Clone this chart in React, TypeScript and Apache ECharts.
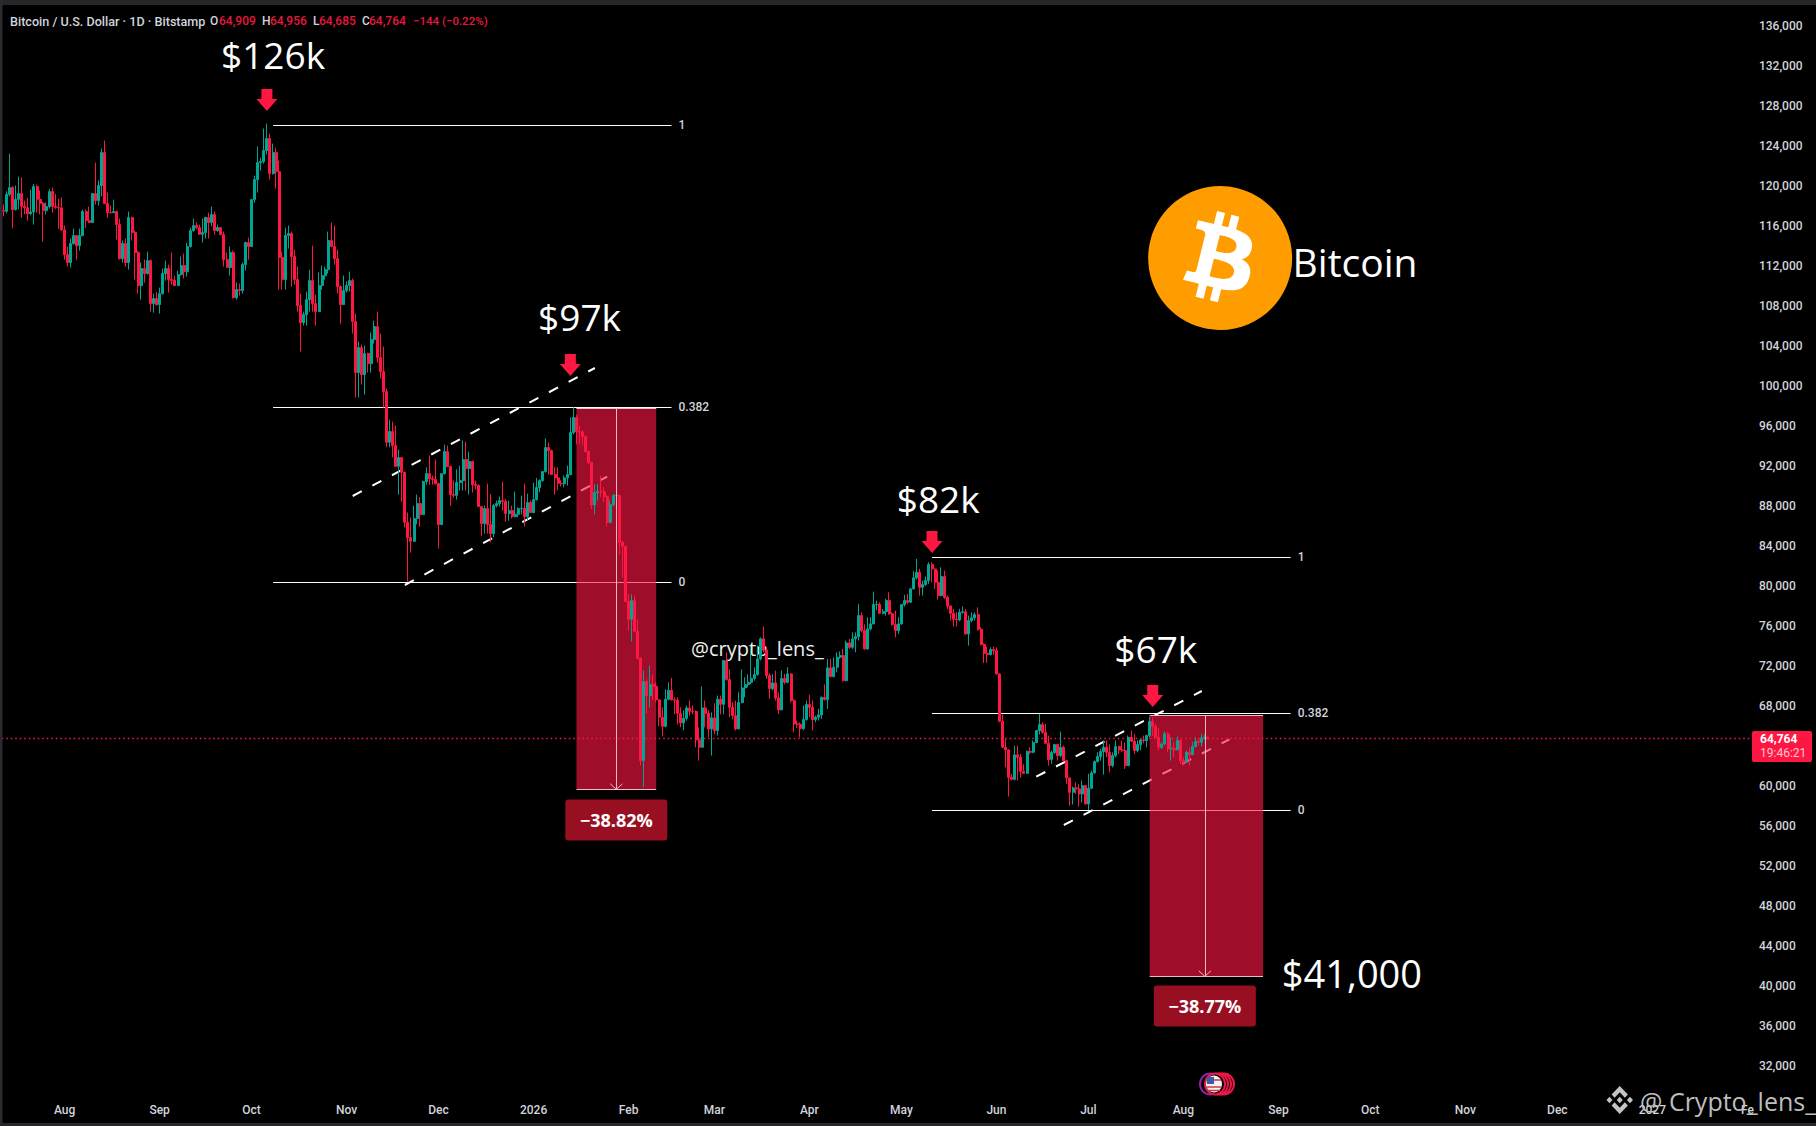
import React, { useEffect, useRef } from "react";
import * as echarts from "echarts";

const FONT = "Roboto, 'Liberation Sans', sans-serif";
const DRAW_FONT = "'Open Sans', 'Noto Sans', sans-serif";
const UP = "#00A693";
const DOWN = "#FF1744";

// Daily candles in thousands of USD, first candle 2025-07-12.
const firstDay = "2025-07-12";
const firstOpen = 117.6;
const closes = [
  117.5,119.2,119.87,117.67,118.7,119.27,118.0,117.85,117.27,117.44,
  119.97,118.7,118.3,117.57,117.97,119.47,118.0,117.9,117.84,115.64,
  113.17,112.37,114.27,115.07,114.07,115.07,117.47,116.57,116.37,119.27,
  118.57,120.07,123.37,118.27,117.37,117.35,117.47,116.17,112.77,114.27,
  112.37,116.87,115.37,113.37,110.07,111.77,111.27,112.57,108.27,108.77,
  108.17,109.27,111.27,111.77,110.67,110.6,110.07,111.17,112.07,111.47,
  113.97,115.57,116.07,115.87,115.2,115.37,116.87,116.37,117.17,115.57,
  115.87,115.17,112.67,111.87,113.37,108.87,109.67,109.57,112.17,114.37,
  113.97,118.67,120.67,122.37,122.47,123.57,124.77,121.27,123.37,121.47,
  112.87,110.67,115.07,115.27,112.97,110.67,108.07,106.37,107.17,108.67,
  110.57,108.27,107.47,110.07,111.07,111.67,114.57,113.97,112.77,109.97,
  108.17,109.57,110.07,110.57,106.47,101.37,103.87,101.17,103.27,102.27,
  104.67,105.97,102.87,101.47,99.47,94.4,95.47,94.07,92.0,92.87,
  91.4,86.4,84.87,84.5,86.77,88.27,87.17,90.47,91.27,90.77,
  90.7,90.27,86.17,91.27,93.47,91.97,89.17,89.1,90.37,90.57,
  92.67,91.77,92.47,90.17,90.1,87.97,86.27,87.77,86.17,85.27,
  88.07,88.27,88.57,88.47,87.27,87.57,86.97,87.2,87.77,87.8,
  86.97,88.37,87.37,88.67,89.87,90.57,91.47,93.87,93.57,91.17,
  90.84,90.3,90.25,90.84,91.17,95.37,96.87,95.47,95.44,94.97,
  93.47,92.37,88.14,89.37,89.47,89.44,88.97,86.4,88.17,89.07,
  89.1,84.4,84.0,78.5,76.7,78.57,75.5,72.8,62.57,70.47,
  69.07,70.17,69.97,68.64,66.9,66.0,68.7,69.6,68.64,68.6,
  67.3,66.34,66.8,67.84,67.5,67.47,64.64,63.9,67.84,67.3,
  65.74,66.84,65.57,68.7,68.2,72.57,70.67,67.9,67.07,65.74,
  68.37,69.84,70.17,70.4,70.8,71.17,72.74,74.74,73.6,71.07,
  69.77,70.34,68.84,67.64,70.77,70.4,71.24,68.57,66.24,66.2,
  65.77,66.67,68.17,67.9,66.67,66.9,67.14,68.9,68.67,71.84,
  70.97,71.9,72.9,73.07,70.57,74.34,73.9,74.74,74.97,77.07,
  75.57,73.74,75.74,76.24,78.17,78.2,77.3,77.47,78.57,77.24,
  76.17,75.57,76.24,78.17,78.57,78.4,79.74,80.84,81.4,79.9,
  80.17,80.57,82.17,81.74,80.4,79.07,80.97,78.9,78.04,77.3,
  76.7,76.64,77.4,77.45,75.24,76.57,76.84,77.17,75.7,74.17,
  73.3,73.17,73.67,73.57,71.24,66.5,63.9,63.64,60.9,60.7,
  63.14,62.9,61.5,61.3,63.5,63.4,64.37,65.57,66.17,65.4,
  64.3,62.67,63.37,64.17,63.07,63.9,62.57,60.84,59.4,59.84,
  59.74,59.24,60.07,58.24,59.8,61.34,62.47,62.97,63.47,63.9,
  63.4,62.07,63.07,63.97,63.64,63.57,62.07,64.9,64.5,63.57,
  64.17,64.64,64.57,65.07,66.47,65.97,64.9,63.9,64.24,65.24,
  63.74,63.8,63.64,64.57,62.57,62.4,63.4,63.17,63.97,64.5,
  64.4,64.84,64.909,64.764,
];
const highs = [
  118.2,119.5,123.27,120.0,120.07,120.97,120.87,118.57,118.83,119.67,
  120.24,120.17,119.57,118.44,118.37,119.74,119.87,119.24,118.74,118.87,
  116.07,113.97,114.77,115.77,115.07,115.77,117.67,117.67,117.97,119.27,
  122.37,120.57,123.77,124.57,119.37,118.07,118.67,117.57,116.77,114.57,
  114.77,117.47,116.97,115.57,113.57,112.37,112.67,113.47,112.67,109.27,
  109.44,109.87,111.77,112.57,112.17,113.37,111.07,111.57,112.97,113.27,
  114.37,115.87,116.77,116.4,116.17,116.77,116.97,117.37,117.97,117.47,
  116.17,115.87,115.47,113.37,113.97,113.57,110.37,110.27,112.37,114.47,
  114.87,118.67,121.07,123.97,122.87,125.77,126.27,125.27,124.27,123.87,
  122.57,113.47,115.87,116.07,115.47,113.67,111.97,109.27,107.47,109.47,
  111.67,114.07,109.17,111.37,112.07,111.97,115.47,116.37,116.07,113.67,
  110.07,111.07,110.47,111.47,110.77,107.27,104.47,104.17,104.07,103.37,
  105.37,106.57,107.47,105.27,103.97,99.77,96.67,96.47,96.07,93.67,
  92.87,91.47,87.37,86.9,88.07,89.17,88.9,90.57,91.9,93.07,
  91.07,92.67,90.37,91.27,94.17,94.07,92.07,90.57,91.7,92.07,
  94.57,94.47,93.47,92.57,90.57,90.17,88.0,88.07,90.27,89.2,
  88.24,88.57,88.97,90.47,88.7,88.57,88.07,89.47,87.9,89.07,
  90.27,89.27,88.57,90.37,90.84,90.7,91.47,94.77,94.37,93.67,
  91.9,91.9,90.6,91.07,92.07,96.9,97.9,97.17,96.07,95.6,
  95.07,93.6,92.47,90.2,90.2,91.07,89.9,89.1,88.57,89.24,
  90.4,89.1,84.57,84.07,79.2,79.2,79.07,76.7,72.9,71.57,
  70.7,72.07,71.2,70.4,68.7,67.9,69.7,70.4,70.84,68.9,
  68.9,67.9,67.6,68.07,68.57,68.07,67.6,65.9,69.97,68.57,
  67.6,67.4,68.3,69.07,69.07,72.57,73.4,71.7,68.4,68.57,
  69.4,71.7,70.9,71.2,73.9,71.9,74.07,74.9,75.97,73.9,
  71.3,71.2,71.57,69.4,71.57,71.24,71.9,71.3,68.7,66.57,
  66.4,68.07,68.57,69.14,68.57,67.07,67.74,68.97,70.2,72.74,
  72.74,72.9,73.4,73.5,73.74,74.57,74.74,75.4,75.4,78.24,
  77.4,76.2,76.9,76.9,79.47,78.57,78.4,77.74,78.74,79.4,
  77.4,77.57,76.9,78.24,79.14,79.24,79.84,81.5,82.74,81.74,
  80.57,80.97,82.4,82.4,81.7,81.57,81.9,81.57,79.07,78.07,
  77.74,77.4,77.74,77.97,77.74,77.07,77.4,77.4,77.9,75.9,
  74.3,73.97,73.9,73.97,73.9,71.3,67.2,64.74,63.7,61.24,
  64.07,64.07,63.24,62.2,63.57,63.9,64.57,65.64,67.24,66.4,
  66.24,65.07,63.57,64.24,64.24,65.47,64.07,62.64,60.9,59.97,
  60.4,60.24,60.57,60.07,61.24,61.57,62.57,63.4,63.74,64.57,
  64.57,64.2,63.4,64.57,64.07,64.57,64.4,65.07,65.57,65.24,
  64.6,64.74,65.07,65.17,66.97,66.9,66.24,65.84,64.4,65.47,
  65.4,64.9,64.4,64.97,64.74,62.9,63.57,63.9,64.4,64.9,
  64.8,65.24,65.17,64.956,
];
const lows = [
  117.0,117.3,119.0,115.8,117.57,117.7,116.87,117.2,116.57,117.1,
  116.17,117.37,117.2,114.47,117.17,117.77,117.37,117.74,115.74,115.57,
  112.67,111.97,111.87,114.17,112.67,113.57,115.0,115.84,116.37,116.37,
  118.17,118.07,119.0,118.27,116.87,117.3,117.37,114.67,112.67,112.37,
  111.97,111.67,114.57,110.67,109.27,108.67,110.37,111.17,107.47,107.37,
  108.07,107.27,109.17,110.57,109.37,110.17,110.0,110.07,111.07,110.77,
  110.97,113.87,115.47,115.7,115.17,114.37,114.77,114.77,116.0,115.17,
  115.47,115.17,111.97,111.87,111.07,108.77,108.67,109.07,109.27,111.57,
  112.67,113.97,118.37,119.37,121.57,122.27,123.17,120.67,121.17,119.77,
  109.67,109.67,109.67,113.77,109.97,110.17,107.47,103.47,106.07,106.07,
  107.47,107.47,106.07,107.47,109.67,110.67,111.27,113.97,112.17,109.27,
  106.27,108.17,109.37,109.47,105.27,98.87,98.87,100.17,99.17,101.37,
  101.37,104.27,102.37,100.77,97.87,93.9,93.9,92.9,92.0,89.17,
  88.47,85.9,80.47,83.37,84.57,86.2,85.97,87.17,90.17,90.17,
  90.17,90.17,83.77,86.17,91.17,91.97,88.07,88.87,88.67,89.57,
  89.57,89.57,89.17,89.37,89.7,87.97,85.07,85.27,85.27,84.4,
  84.9,87.9,87.97,87.57,86.47,86.57,86.77,86.9,86.9,87.2,
  85.97,86.57,87.37,87.3,88.57,89.4,90.47,91.37,91.17,91.17,
  89.17,89.6,90.0,89.9,90.07,91.1,95.2,94.2,94.2,94.07,
  93.4,92.2,87.7,87.2,88.57,88.9,88.4,85.97,86.3,88.0,
  87.07,83.2,80.9,78.4,75.57,74.5,75.5,72.7,62.07,59.9,
  67.27,67.9,68.57,68.4,66.0,65.0,65.9,68.6,68.6,67.2,
  66.2,65.9,65.6,66.57,67.07,67.2,63.9,62.57,63.9,65.9,
  64.9,63.07,65.2,65.07,67.2,67.2,70.57,66.9,66.7,65.57,
  65.74,68.3,68.9,69.9,70.2,70.57,71.07,72.6,73.4,70.74,
  68.74,69.6,68.57,67.24,67.64,70.2,70.3,68.4,65.4,65.84,
  64.9,65.6,66.57,66.9,65.57,66.4,66.57,66.74,68.57,67.74,
  70.9,70.9,71.4,72.74,70.47,70.5,73.74,73.74,73.4,74.57,
  75.4,73.64,73.67,75.57,76.2,77.6,77.3,77.2,77.07,77.17,
  76.07,74.9,75.24,76.17,77.97,78.24,78.37,79.7,80.67,79.07,
  79.07,80.04,80.24,80.4,79.74,78.67,79.0,78.74,77.74,76.57,
  75.97,75.97,76.5,77.24,75.14,74.07,76.4,76.57,75.57,74.1,
  72.34,72.34,73.07,73.17,71.17,66.4,63.84,61.9,58.97,60.6,
  60.6,60.57,60.84,61.24,61.24,63.2,63.3,64.3,65.17,65.24,
  64.24,62.07,62.24,63.24,62.57,62.9,62.5,60.24,58.07,58.17,
  59.24,57.97,58.4,58.17,57.64,59.74,61.3,62.4,62.57,61.17,
  62.9,61.4,61.9,62.9,63.24,63.4,61.74,62.04,64.44,63.24,
  63.4,63.6,64.3,63.9,64.9,65.07,64.84,63.57,63.74,64.1,
  63.4,62.57,62.9,63.6,62.24,62.07,62.57,62.07,63.24,63.9,
  64.1,63.97,64.64,64.685,
];

const totalDays = 571;
const monthTicks: [string, string][] = [
  ["2025-08-01","Aug"],["2025-09-01","Sep"],["2025-10-01","Oct"],["2025-11-01","Nov"],
  ["2025-12-01","Dec"],["2026-01-01","2026"],["2026-02-01","Feb"],["2026-03-01","Mar"],
  ["2026-04-01","Apr"],["2026-05-01","May"],["2026-06-01","Jun"],["2026-07-01","Jul"],
  ["2026-08-01","Aug"],["2026-09-01","Sep"],["2026-10-01","Oct"],["2026-11-01","Nov"],
  ["2026-12-01","Dec"],["2027-01-01","2027"],["2027-02-01","Fe"],
];

const lastClose = 64.764;

// [fromDay, toDay, price, label] - day = index into the candles
const fibLevels: [number, number, number, string][] = [
  [88, 218, 126.1, "1"], [88, 218, 97.9, "0.382"], [88, 218, 80.4, "0"],
  [303, 420, 82.9, "1"], [303, 420, 67.3, "0.382"], [303, 420, 57.6, "0"],
];
// [day, price, day, price]
const channels: [number, number, number, number][] = [
  [114, 89.03, 193, 101.83], [131, 80.13, 197, 90.96],
  [337, 60.96, 391, 69.53], [346, 56.13, 400, 64.7],
];
// [fromDay, toDay, top, bottom, arrowDay]
const dropBoxes: [number, number, number, number, number][] = [
  [187, 213, 97.83, 59.7, 200],
  [374, 411, 67.13, 41.0, 392],
];
const dropLabels: [number, number, string][] = [
  [200, 56.63, "−38.82%"], [392, 38.03, "−38.77%"],
];
// [day, price, text, fontSize]
const bigLabels: [number, number, string, number][] = [
  [88, 133.17, "$126k", 37], [188, 107.0, "$97k", 37], [305, 88.83, "$82k", 37],
  [376, 73.77, "$67k", 37], [440, 41.36, "$41,000", 38], [441, 112.46, "Bitcoin", 39],
];
const peakArrows: [number, number][] = [
  [86, 128.63], [185, 102.13], [303, 84.43], [375, 69.03],
];

const BTC_PATH = "path://M23.638 14.904c-1.602 6.43-8.113 10.34-14.542 8.736C2.67 22.05-1.244 15.525.362 9.105 1.962 2.67 8.475-1.243 14.9.358c6.43 1.605 10.342 8.115 8.738 14.548v-.002zm-6.35-4.613c.24-1.59-.974-2.45-2.64-3.03l.54-2.153-1.315-.33-.525 2.107c-.345-.087-.705-.167-1.064-.25l.526-2.127-1.32-.33-.54 2.165c-.285-.067-.565-.132-.84-.2l-1.815-.45-.35 1.407s.975.225.955.236c.535.136.63.486.615.766l-1.477 5.92c-.075.166-.24.406-.614.314.015.02-.96-.24-.96-.24l-.66 1.51 1.71.426.93.242-.54 2.19 1.32.327.54-2.17c.36.1.705.19 1.05.273l-.51 2.154 1.32.33.545-2.19c2.24.427 3.93.257 4.64-1.774.57-1.637-.03-2.58-1.217-3.196.854-.193 1.5-.76 1.68-1.93h.01zm-3.01 4.22c-.404 1.64-3.157.75-4.05.53l.72-2.9c.896.23 3.757.67 3.33 2.37zm.41-4.24c-.37 1.49-2.662.735-3.405.55l.654-2.64c.744.18 3.137.524 2.75 2.084v.006z";
const BINANCE_PATH = "M16.624 13.9202l2.7175 2.7154-7.353 7.353-7.353-7.352 2.7175-2.7164 4.6355 4.6595 4.6356-4.6595zm4.6366-4.6366L24 12l-2.7154 2.7164L18.5682 12l2.6924-2.7164zm-9.272.001l2.7163 2.6914-2.7164 2.7174v-.001L9.2721 12l2.7164-2.7154zm-9.2722-.001L5.4088 12l-2.6914 2.6924L0 12l2.7164-2.7164zM11.9885.0115l7.353 7.329-2.7174 2.7154-4.6356-4.6356-4.6355 4.6595-2.7174-2.7154 7.353-7.353z";
const ARROW_PATH = "path://M5,0 H16 V10 H21 L10.5,22 L0,10 H5 Z";
const TAG_PATH = "path://M3,0 H99 Q102,0 102,3 V38 Q102,41 99,41 H3 Q0,41 0,38 V3 Q0,0 3,0 Z";

function dayLabel(i: number) {
  const d = new Date(firstDay + "T00:00:00Z");
  d.setUTCDate(d.getUTCDate() + i);
  return d.toISOString().slice(0, 10);
}

function buildOption() {
  const days = Array.from({ length: totalDays }, (_, i) => dayLabel(i));
  const tickMap = new Map(monthTicks);
  const candles = closes.map((c, i) => [i === 0 ? firstOpen : closes[i - 1], c, lows[i], highs[i]]);

  const pinkLine = { color: "#EDB9C4", width: 1, type: "solid" as const };

  const headerParts: [number, string, string, number][] = [
    [10, "Bitcoin / U.S. Dollar · 1D · Bitstamp", "#D1D4DC", 12.6],
    [210, "O", "#D1D4DC", 12],
    [219, "64,909", "#E8173F", 12],
    [262, "H", "#D1D4DC", 12],
    [270, "64,956", "#E8173F", 12],
    [313, "L", "#D1D4DC", 12],
    [319, "64,685", "#E8173F", 12],
    [362, "C", "#D1D4DC", 12],
    [369, "64,764", "#E8173F", 12],
    [413, "−144 (−0.22%)", "#E8173F", 11.5],
  ];

  return {
    animation: false,
    backgroundColor: "#000000",
    grid: { left: 1.77, top: 26.3, width: 1750.2, height: 1080, containLabel: false },
    xAxis: {
      type: "category",
      data: days,
      boundaryGap: true,
      axisLine: { show: false },
      axisTick: { show: false },
      splitLine: { show: false },
      axisLabel: {
        color: "#D1D4DC",
        fontFamily: FONT,
        fontSize: 12,
        fontWeight: 500,
        margin: 4,
        verticalAlign: "middle",
        interval: (_: number, v: string) => tickMap.has(v),
        formatter: (v: string) => tickMap.get(v) ?? "",
      },
    },
    yAxis: {
      type: "value",
      position: "right",
      min: 28,
      max: 136,
      interval: 4,
      scale: true,
      axisLine: { show: false },
      axisTick: { show: false },
      splitLine: { show: false },
      axisLabel: {
        color: "#D1D4DC",
        fontFamily: FONT,
        fontSize: 12,
        fontWeight: 500,
        margin: 7,
        // 28,000 falls under the date row and 64,000 under the price tag
        formatter: (v: number) => (v < 32 || v === 64 ? "" : (v * 1000).toLocaleString("en-US")),
      },
    },
    series: [
      {
        name: "levels",
        type: "line",
        data: [],
        z: 2,
        markLine: {
          silent: true,
          z: 2,
          symbol: "none",
          animation: false,
          label: { show: false },
          data: [
            ...fibLevels.map(([a, b, p, text]) => [
              {
                coord: [a, p],
                lineStyle: { color: "#FFFFFF", width: 1.2, type: "solid" },
              },
              {
                coord: [b, p],
                label: {
                  show: true,
                  position: "end",
                  distance: 7,
                  formatter: text,
                  color: "#D1D4DC",
                  fontFamily: FONT,
                  fontWeight: 500,
                  fontSize: 12,
                },
              },
            ]),
            ...channels.map(([a, p, b, q]) => [
              { coord: [a, p], lineStyle: { color: "#FFFFFF", width: 2, type: [10.2, 12] } },
              { coord: [b, q] },
            ]),
          ],
        },
      },
      {
        name: "boxes",
        type: "line",
        data: [],
        z: 3,
        markArea: {
          silent: true,
          z: 3,
          itemStyle: { color: "rgba(255,23,68,0.62)" },
          data: dropBoxes.map(([a, b, top, bottom]) => [
            { coord: [a, top] },
            { coord: [b, bottom] },
          ]),
        },
        markPoint: {
          silent: true,
          z: 4,
          data: [
            {
              coord: [246, 73.83],
              symbol: "circle",
              symbolSize: 1,
              itemStyle: { color: "transparent" },
              label: {
                show: true,
                position: "inside",
                formatter: "@crypto_lens_",
                color: "#EEEEEE",
                fontFamily: DRAW_FONT,
                fontSize: 20,
              },
            },
          ],
        },
      },
      {
        name: "BTCUSD",
        type: "candlestick",
        z: 10,
        barWidth: 2.5,
        data: candles,
        itemStyle: {
          color: UP,
          color0: DOWN,
          borderColor: UP,
          borderColor0: DOWN,
          borderColorDoji: DOWN,
          borderWidth: 1,
        },
        markLine: {
          silent: true,
          z: 9,
          symbol: "none",
          animation: false,
          label: { show: false },
          data: [
            {
              yAxis: lastClose,
              lineStyle: { color: DOWN, width: 1.3, type: [1.5, 3] },
            },
          ],
        },
      },
      {
        name: "drawings",
        type: "line",
        data: [],
        z: 11,
        markLine: {
          silent: true,
          z: 11,
          symbol: "none",
          animation: false,
          label: { show: false },
          lineStyle: pinkLine,
          data: dropBoxes.flatMap(([a, b, top, bottom, mid]) => [
            [{ coord: [a, top], lineStyle: pinkLine }, { coord: [b, top] }],
            [{ coord: [a, bottom], lineStyle: pinkLine }, { coord: [b, bottom] }],
            [{ coord: [mid, top], lineStyle: pinkLine }, { coord: [mid, bottom] }],
            [{ coord: [mid - 2, bottom + 0.55], lineStyle: pinkLine }, { coord: [mid, bottom] }],
            [{ coord: [mid + 2, bottom + 0.55], lineStyle: pinkLine }, { coord: [mid, bottom] }],
          ]),
        },
        markPoint: {
          silent: true,
          z: 12,
          data: [
            ...peakArrows.map(([d, p]) => ({
              coord: [d, p],
              symbol: ARROW_PATH,
              symbolSize: [21, 22],
              itemStyle: { color: DOWN },
              label: { show: false },
            })),
            {
              coord: [397, 112.83],
              symbol: "circle",
              symbolSize: 100,
              itemStyle: { color: "#FFFFFF" },
              label: { show: false },
            },
            {
              coord: [397, 112.83],
              symbol: BTC_PATH,
              symbolSize: 144,
              itemStyle: { color: "#FF9C00" },
              label: { show: false },
            },
            ...dropLabels.map(([d, p, text]) => ({
              coord: [d, p],
              symbol: TAG_PATH,
              symbolSize: [102, 41],
              itemStyle: { color: "#990F22" },
              label: {
                show: true,
                position: "inside",
                formatter: text,
                color: "#FFFFFF",
                fontFamily: DRAW_FONT,
                fontWeight: "bold",
                fontSize: 18,
              },
            })),
            ...bigLabels.map(([d, p, text, size]) => ({
              coord: [d, p],
              symbol: "circle",
              symbolSize: 1,
              itemStyle: { color: "transparent" },
              label: {
                show: true,
                position: "inside",
                formatter: text,
                color: "#FFFFFF",
                fontFamily: DRAW_FONT,
                fontSize: size,
              },
            })),
          ],
        },
      },
    ],
    graphic: [
      { type: "rect", z: 100, shape: { x: 0, y: 0, width: 1816, height: 5 }, style: { fill: "#26262B" } },
      { type: "rect", z: 100, shape: { x: 0, y: 0, width: 2.5, height: 1126 }, style: { fill: "#2A2A30" } },
      { type: "rect", z: 100, shape: { x: 0, y: 1123, width: 1816, height: 3 }, style: { fill: "#26262B" } },
      ...headerParts.map(([x, text, fill, size]) => ({
        type: "text",
        z: 100,
        x,
        y: 21,
        style: { text, fill, font: `500 ${size}px ${FONT}`, verticalAlign: "middle" },
      })),
      { type: "rect", z: 100, shape: { x: 1752, y: 731, width: 60, height: 31, r: 2 }, style: { fill: "#FF1744" } },
      { type: "text", z: 101, x: 1760, y: 739, style: { text: "64,764", fill: "#FFFFFF", font: `bold 12px ${FONT}`, verticalAlign: "middle" } },
      { type: "text", z: 101, x: 1760, y: 753, style: { text: "19:46:21", fill: "#FFC6D0", font: `12px ${FONT}`, verticalAlign: "middle" } },
      // economic event marker
      { type: "ellipse", z: 90, shape: { cx: 1210, cy: 1084, rx: 10, ry: 10.5 }, style: { fill: "none", stroke: "#8E24AA", lineWidth: 2 } },
      { type: "ellipse", z: 91, shape: { cx: 1224, cy: 1084, rx: 10, ry: 10.5 }, style: { fill: "#000", stroke: "#F01848", lineWidth: 2 } },
      { type: "ellipse", z: 92, shape: { cx: 1221, cy: 1084, rx: 10, ry: 10.5 }, style: { fill: "#000", stroke: "#F01848", lineWidth: 2 } },
      { type: "ellipse", z: 93, shape: { cx: 1218, cy: 1084, rx: 10, ry: 10.5 }, style: { fill: "#000", stroke: "#F01848", lineWidth: 2 } },
      { type: "ellipse", z: 94, shape: { cx: 1215, cy: 1084, rx: 10, ry: 10.5 }, style: { fill: "#000", stroke: "#F01848", lineWidth: 2 } },
      { type: "ellipse", z: 95, shape: { cx: 1214, cy: 1084, rx: 8, ry: 8.5 }, style: { fill: "#F2F2F2" } },
      { type: "line", z: 96, shape: { x1: 1207, y1: 1087, x2: 1221, y2: 1087 }, style: { stroke: "#D8334A", lineWidth: 1.5 } },
      { type: "line", z: 96, shape: { x1: 1208, y1: 1090.5, x2: 1220, y2: 1090.5 }, style: { stroke: "#D8334A", lineWidth: 1.5 } },
      { type: "line", z: 96, shape: { x1: 1214, y1: 1080, x2: 1221, y2: 1080 }, style: { stroke: "#D8334A", lineWidth: 1.5 } },
      { type: "rect", z: 96, shape: { x: 1207, y: 1077, width: 7, height: 7 }, style: { fill: "#3C5BA8" } },
      // watermark
      { type: "text", z: 100, x: 1640, y: 1101, style: { text: "@ Crypto_lens_", fill: "#BDBDBD", font: `25px ${DRAW_FONT}`, verticalAlign: "middle" } },
    ],
  };
}

export default function App() {
  const ref = useRef<HTMLDivElement | null>(null);
  useEffect(() => {
    if (!ref.current) return;
    document.body.style.margin = "0";
    document.body.style.background = "#000";
    const chart = echarts.init(ref.current, undefined, { renderer: "svg" });
    const option: any = buildOption();
    echarts.graphic.registerShape("binanceMark", echarts.graphic.extendPath(BINANCE_PATH, {}));
    option.graphic.push({
      type: "binanceMark",
      z: 100,
      x: 1606.5,
      y: 1086,
      scaleX: 26.5 / 24,
      scaleY: 28 / 24,
      style: { fill: "#C4C4C4" },
    });
    chart.setOption(option);
    return () => chart.dispose();
  }, []);
  return (
    <div
      ref={ref}
      style={{ position: "absolute", left: 0, top: 0, width: 1816, height: 1126, overflow: "hidden" }}
    />
  );
}
